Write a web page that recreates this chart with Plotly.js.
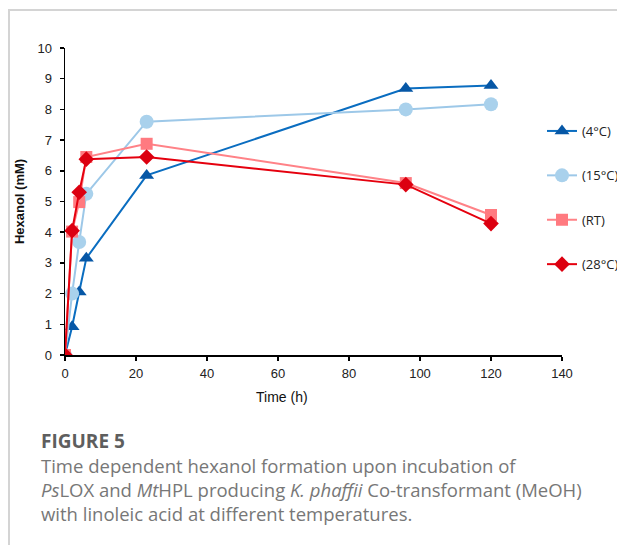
<!DOCTYPE html>
<html>
<head>
<meta charset="utf-8">
<script src="https://cdn.plot.ly/plotly-3.0.1.min.js"></script>
<style>
  html, body { margin: 0; padding: 0; background: #ffffff; overflow: hidden; width: 617px; height: 545px; }
  #frame { position: absolute; left: 8px; top: 9px; width: 700px; height: 600px;
           border-top: 2px solid #d4d4d4; border-left: 2px solid #d4d4d4; }
  #chart { position: absolute; left: 0; top: 0; width: 700px; height: 545px; }
</style>
</head>
<body>
<div id="frame"></div>
<div id="chart"></div>
<script>
// ---- data ----
const timeH = [0, 2, 4, 6, 23, 96, 120];
const seriesNames = ['(4°C)', '(15°C)', '(RT)', '(28°C)'];
const hex4C  = [0, 0.92, 2.05, 3.15, 5.85, 8.68, 8.78];
const hex15C = [0, 2.0, 3.68, 5.25, 7.6, 8.0, 8.17];
const hexRT  = [0, 4.02, 4.98, 6.45, 6.88, 5.6, 4.56];
const hex28C = [0, 4.05, 5.3, 6.38, 6.45, 5.55, 4.28];
const xTicks = [0, 20, 40, 60, 80, 100, 120, 140];
const yTicks = [0, 1, 2, 3, 4, 5, 6, 7, 8, 9, 10];

const styles = [
  {line: '#0A6DC0', marker: '#0657A6', symbol: 'triangle-up', size: 13},
  {line: '#9DC8E8', marker: '#A9D1EC', symbol: 'circle', size: 14},
  {line: '#FF8287', marker: '#FF7A80', symbol: 'square', size: 12},
  {line: '#E5000E', marker: '#DC0010', symbol: 'diamond', size: 12}
];
const values = [hex4C, hex15C, hexRT, hex28C];

const traces = values.map((v, i) => ({
  x: timeH, y: v, name: seriesNames[i], type: 'scatter', mode: 'lines+markers',
  legendgroup: 'g' + i,
  line: {color: styles[i].line, width: 2},
  marker: {color: styles[i].marker, symbol: styles[i].symbol, size: styles[i].size}
}));

// plot canvas is wider than the 617px window so the right-edge legend does not squeeze the axes
const W = 700, H = 545;
const L = 65, R = 562, T = 48, B = 355;
const px = x => (x - L) / (R - L);
const py = y => (B - y) / (B - T);

const capFont = {family: 'Open Sans, Noto Sans, sans-serif', size: 18.5, color: '#777777'};
const capX = px(39);
const annotations = [
  {text: 'Time (h)', x: px(282), y: py(397), xref: 'paper', yref: 'paper',
   xanchor: 'center', yanchor: 'middle', showarrow: false,
   font: {family: 'Liberation Sans, Arial, sans-serif', size: 14, color: '#111'}},
  {text: '<b>FIGURE 5</b>', x: capX, y: py(441), xref: 'paper', yref: 'paper',
   xanchor: 'left', yanchor: 'middle', showarrow: false,
   font: {family: 'Open Sans, Noto Sans, sans-serif', size: 19, color: '#5e5e5e'}},
  {text: 'Time dependent hexanol formation upon incubation of', x: capX, y: py(465), xref: 'paper', yref: 'paper',
   xanchor: 'left', yanchor: 'middle', showarrow: false, font: capFont},
  {text: '<i>Ps</i>LOX and <i>Mt</i>HPL producing <i>K. phaffii</i> Co-transformant (MeOH)', x: capX, y: py(489), xref: 'paper', yref: 'paper',
   xanchor: 'left', yanchor: 'middle', showarrow: false, font: capFont},
  {text: 'with linoleic acid at different temperatures.', x: capX, y: py(513), xref: 'paper', yref: 'paper',
   xanchor: 'left', yanchor: 'middle', showarrow: false, font: capFont}
];

const layout = {
  width: W, height: H,
  margin: {l: L, r: W - R, t: T, b: H - B, pad: 0},
  paper_bgcolor: 'rgba(0,0,0,0)', plot_bgcolor: 'rgba(0,0,0,0)',
  font: {family: 'Liberation Sans, Arial, sans-serif', size: 13, color: '#222'},
  showlegend: true,
  legend: {x: px(542), y: py(116), xanchor: 'left', yanchor: 'top',
           traceorder: 'grouped', tracegroupgap: 24.5, bgcolor: 'rgba(0,0,0,0)',
           font: {family: 'Open Sans, Noto Sans, sans-serif', size: 13, color: '#222'}},
  xaxis: {range: [0, 140], tickvals: xTicks, ticktext: xTicks.map(String),
          showgrid: false, zeroline: false, showline: true, linecolor: '#000', linewidth: 1.5,
          ticks: 'outside', ticklen: 4, tickcolor: '#000', tickwidth: 1.5,
          tickfont: {size: 13, color: '#222'}, ticklabelstandoff: 2},
  yaxis: {range: [0, 10], tickvals: yTicks, ticktext: yTicks.map(String),
          showgrid: false, zeroline: false, showline: true, linecolor: '#000', linewidth: 1.5,
          ticks: 'outside', ticklen: 4, tickcolor: '#000', tickwidth: 1.5,
          tickfont: {size: 13, color: '#222'}, ticklabelstandoff: 5,
          title: {text: '<b>Hexanol (mM)</b>', font: {size: 13, color: '#111'}, standoff: 10}},
  annotations: annotations
};

Plotly.newPlot('chart', traces, layout, {displayModeBar: false, staticPlot: true});
</script>
</body>
</html>
